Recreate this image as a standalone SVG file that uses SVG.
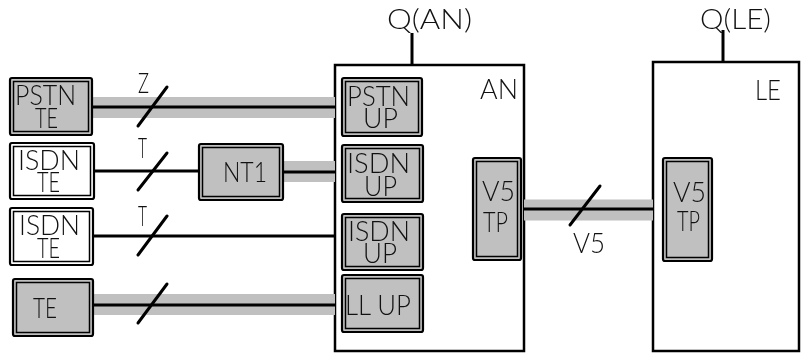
<svg xmlns="http://www.w3.org/2000/svg" width="802" height="354" viewBox="0 0 802 354">
<defs>
<filter id="gs" x="0" y="0" width="1" height="1"><feOffset dx="0" dy="0"/></filter>
</defs>
<style>
.o{stroke:#000;stroke-width:2.2;}
.i{fill:none;stroke:#000;stroke-width:1.5;}
.g{fill:#c0c0c0;}
.w{fill:#fff;}
.band{stroke:#c0c0c0;stroke-width:21;fill:none;}
.ln{stroke:#000;stroke-width:3;fill:none;}
.sl{stroke:#000;stroke-width:3;stroke-linecap:round;fill:none;}
.cont{fill:#fff;stroke:#000;stroke-width:2.5;}
text{font-family:Lato,"DejaVu Sans","Liberation Sans",sans-serif;font-weight:300;font-size:27px;fill:#111;}
.t{filter:url(#gs);}
</style>
<rect width="802" height="354" fill="#fff"/>
<g id="AN">
<rect class="cont" x="335" y="65" width="189" height="286"/>
<g class="t"><text x="480" y="99" textLength="38" lengthAdjust="spacingAndGlyphs">AN</text></g>
</g>
<g id="LE">
<rect class="cont" x="653" y="62" width="146" height="289"/>
<g class="t"><text x="755" y="100" textLength="26" lengthAdjust="spacingAndGlyphs">LE</text></g>
</g>
<g id="connectors">
<line class="band" x1="93" y1="107.5" x2="335" y2="107.5"/>
<line class="ln" x1="93" y1="107" x2="335" y2="107"/>
<line class="sl" x1="138" y1="126" x2="167" y2="87"/>
<line class="ln" x1="95" y1="171" x2="198" y2="171"/>
<line class="sl" x1="138" y1="190" x2="167" y2="153"/>
<line class="band" x1="284" y1="171.5" x2="335" y2="171.5"/>
<line class="ln" x1="284" y1="172" x2="335" y2="172"/>
<line class="ln" x1="94" y1="236" x2="335" y2="236"/>
<line class="sl" x1="138" y1="255" x2="167" y2="216"/>
<line class="band" x1="94" y1="304.5" x2="335" y2="304.5"/>
<line class="ln" x1="94" y1="305" x2="335" y2="305"/>
<line class="sl" x1="138" y1="323" x2="167" y2="284"/>
<line class="band" x1="524" y1="210" x2="653" y2="210"/>
<line class="ln" x1="524" y1="209" x2="653" y2="209"/>
<line class="sl" x1="570" y1="225" x2="600" y2="186"/>
<line class="ln" x1="412" y1="33" x2="412" y2="65"/>
<line class="ln" x1="723" y1="30" x2="723" y2="62"/>
<g class="t">
<text x="138" y="93" textLength="11" lengthAdjust="spacingAndGlyphs">Z</text>
<text x="138" y="158" textLength="9" lengthAdjust="spacingAndGlyphs">T</text>
<text x="138" y="226" textLength="9" lengthAdjust="spacingAndGlyphs">T</text>
<text x="573" y="253" textLength="32" lengthAdjust="spacingAndGlyphs">V5</text>
<text x="387" y="29" textLength="85" lengthAdjust="spacingAndGlyphs">Q(AN)</text>
<text x="700" y="29" textLength="71" lengthAdjust="spacingAndGlyphs">Q(LE)</text>
</g>
</g>
<g id="pstn-te">
<rect class="o g" x="10" y="78" width="82" height="57" rx="2"/>
<rect class="i" x="13.5" y="81.5" width="75" height="50"/>
<g class="t"><text><tspan x="15" y="105" textLength="61" lengthAdjust="spacingAndGlyphs">PSTN</tspan><tspan x="35" y="128" textLength="23" lengthAdjust="spacingAndGlyphs">TE</tspan></text></g>
</g>
<g id="isdn-te-1">
<rect class="o w" x="10" y="143" width="84" height="56" rx="2"/>
<rect class="i" x="13.5" y="146.5" width="77" height="49"/>
<g class="t"><text><tspan x="18" y="170" textLength="62" lengthAdjust="spacingAndGlyphs">ISDN</tspan><tspan x="37" y="192" textLength="23" lengthAdjust="spacingAndGlyphs">TE</tspan></text></g>
</g>
<g id="isdn-te-2">
<rect class="o w" x="10" y="208" width="83" height="57" rx="2"/>
<rect class="i" x="13.5" y="211.5" width="76" height="50"/>
<g class="t"><text><tspan x="19" y="235" textLength="61" lengthAdjust="spacingAndGlyphs">ISDN</tspan><tspan x="37" y="258" textLength="23" lengthAdjust="spacingAndGlyphs">TE</tspan></text></g>
</g>
<g id="te">
<rect class="o g" x="13" y="279" width="80" height="57" rx="2"/>
<rect class="i" x="16.5" y="282.5" width="73" height="50"/>
<g class="t"><text x="33" y="318" textLength="24" lengthAdjust="spacingAndGlyphs">TE</text></g>
</g>
<g id="nt1">
<rect class="o g" x="199" y="144" width="84" height="56" rx="2"/>
<rect class="i" x="202.5" y="147.5" width="77" height="49"/>
<g class="t"><text x="223" y="182" textLength="44" lengthAdjust="spacingAndGlyphs">NT1</text></g>
</g>
<g id="pstn-up">
<rect class="o g" x="342" y="78" width="80" height="58" rx="2"/>
<rect class="i" x="345.5" y="81.5" width="73" height="51"/>
<g class="t"><text><tspan x="347" y="106" textLength="63" lengthAdjust="spacingAndGlyphs">PSTN</tspan><tspan x="363" y="128" textLength="35" lengthAdjust="spacingAndGlyphs">UP</tspan></text></g>
</g>
<g id="isdn-up-1">
<rect class="o g" x="342" y="145" width="81" height="57" rx="2"/>
<rect class="i" x="345.5" y="148.5" width="74" height="50"/>
<g class="t"><text><tspan x="347" y="173" textLength="63" lengthAdjust="spacingAndGlyphs">ISDN</tspan><tspan x="364" y="196" textLength="33" lengthAdjust="spacingAndGlyphs">UP</tspan></text></g>
</g>
<g id="isdn-up-2">
<rect class="o g" x="342" y="214" width="81" height="56" rx="2"/>
<rect class="i" x="345.5" y="217.5" width="74" height="49"/>
<g class="t"><text><tspan x="348" y="241" textLength="62" lengthAdjust="spacingAndGlyphs">ISDN</tspan><tspan x="363" y="263" textLength="34" lengthAdjust="spacingAndGlyphs">UP</tspan></text></g>
</g>
<g id="ll-up">
<rect class="o g" x="342" y="275" width="81" height="57" rx="2"/>
<rect class="i" x="345.5" y="278.5" width="74" height="50"/>
<g class="t"><text x="345" y="315" textLength="66" lengthAdjust="spacingAndGlyphs">LL UP</text></g>
</g>
<g id="v5tp-an">
<rect class="o g" x="473" y="158" width="48" height="102" rx="2"/>
<rect class="i" x="476.5" y="161.5" width="41" height="95"/>
<g class="t"><text><tspan x="482" y="201" textLength="33" lengthAdjust="spacingAndGlyphs">V5</tspan><tspan x="483" y="232" textLength="25" lengthAdjust="spacingAndGlyphs">TP</tspan></text></g>
</g>
<g id="v5tp-le">
<rect class="o g" x="663" y="158" width="49" height="103" rx="2"/>
<rect class="i" x="666.5" y="161.5" width="42" height="96"/>
<g class="t"><text><tspan x="673" y="202" textLength="33" lengthAdjust="spacingAndGlyphs">V5</tspan><tspan x="677" y="231" textLength="23" lengthAdjust="spacingAndGlyphs">TP</tspan></text></g>
</g>
</svg>
